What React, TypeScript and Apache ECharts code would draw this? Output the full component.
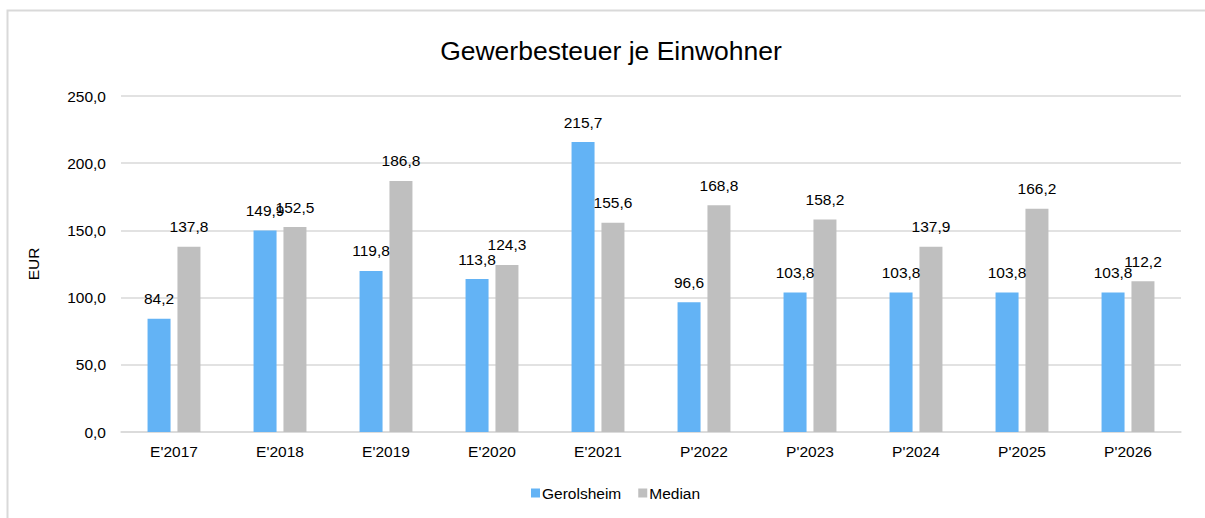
import React, { useEffect, useRef } from "react";
import * as echarts from "echarts";

const categories = ["E'2017", "E'2018", "E'2019", "E'2020", "E'2021", "P'2022", "P'2023", "P'2024", "P'2025", "P'2026"];
const gerolsheim = [84.2, 149.9, 119.8, 113.8, 215.7, 96.6, 103.8, 103.8, 103.8, 103.8];
const median = [137.8, 152.5, 186.8, 124.3, 155.6, 168.8, 158.2, 137.9, 166.2, 112.2];

const fmt = (v: number) => v.toFixed(1).replace(".", ",");

export default function App() {
  const ref = useRef<HTMLDivElement>(null);
  useEffect(() => {
    if (!ref.current) return;
    const chart = echarts.init(ref.current, undefined, { renderer: "svg" });
    const font = "Liberation Sans, Arial, sans-serif";
    const fs = 15.5;
    const labelCfg = {
      show: true,
      position: "top" as const,
      distance: 12,
      color: "#000",
      fontSize: fs,
      fontFamily: font,
      formatter: (p: any) => fmt(p.value),
    };
    chart.setOption({
      animation: false,
      backgroundColor: "#fff",
      title: {
        text: "Gewerbesteuer je Einwohner",
        left: 606,
        textAlign: "center",
        top: 32,
        textStyle: { fontFamily: font, fontSize: 26.5, fontWeight: "normal", color: "#000" },
      },
      graphic: [
        {
          type: "rect",
          shape: { x: 7.5, y: 10.5, width: 1220, height: 540 },
          style: { fill: "none", stroke: "#d9d9d9", lineWidth: 2 },
          silent: true,
        },
      ],
      legend: {
        bottom: 12,
        left: 526,
        itemWidth: 9,
        itemHeight: 9,
        itemGap: 17,
        icon: "rect",
        textStyle: { fontFamily: font, fontSize: fs, color: "#000", padding: [0, 0, 0, -3] },
        data: ["Gerolsheim", "Median"],
      },
      grid: { left: 121, right: 24, top: 96, bottom: 86 },
      xAxis: {
        type: "category",
        data: categories,
        axisTick: { show: false },
        axisLine: { lineStyle: { color: "#d9d9d9", width: 1.5 } },
        axisLabel: { color: "#000", fontFamily: font, fontSize: fs, margin: 11 },
      },
      yAxis: {
        type: "value",
        min: 0,
        max: 250,
        interval: 50,
        name: "EUR",
        nameLocation: "middle",
        nameRotate: 90,
        nameGap: 80,
        nameTextStyle: { color: "#000", fontFamily: font, fontSize: fs },
        axisLabel: { color: "#000", fontFamily: font, fontSize: fs, margin: 15, formatter: (v: number) => fmt(v) },
        splitLine: { lineStyle: { color: "#d9d9d9", width: 1.5 } },
        axisLine: { show: false },
        axisTick: { show: false },
      },
      series: [
        {
          name: "Gerolsheim",
          type: "bar",
          data: gerolsheim,
          itemStyle: { color: "#63b3f5" },
          barWidth: 23,
          barGap: "30%",
          label: labelCfg,
        },
        {
          name: "Median",
          type: "bar",
          data: median,
          itemStyle: { color: "#bfbfbf" },
          barWidth: 23,
          barGap: "30%",
          label: labelCfg,
        },
      ],
    });
    return () => chart.dispose();
  }, []);
  return (
    <div
      ref={ref}
      style={{ position: "fixed", left: 0, top: 0, width: 1205, height: 518 }}
    />
  );
}
